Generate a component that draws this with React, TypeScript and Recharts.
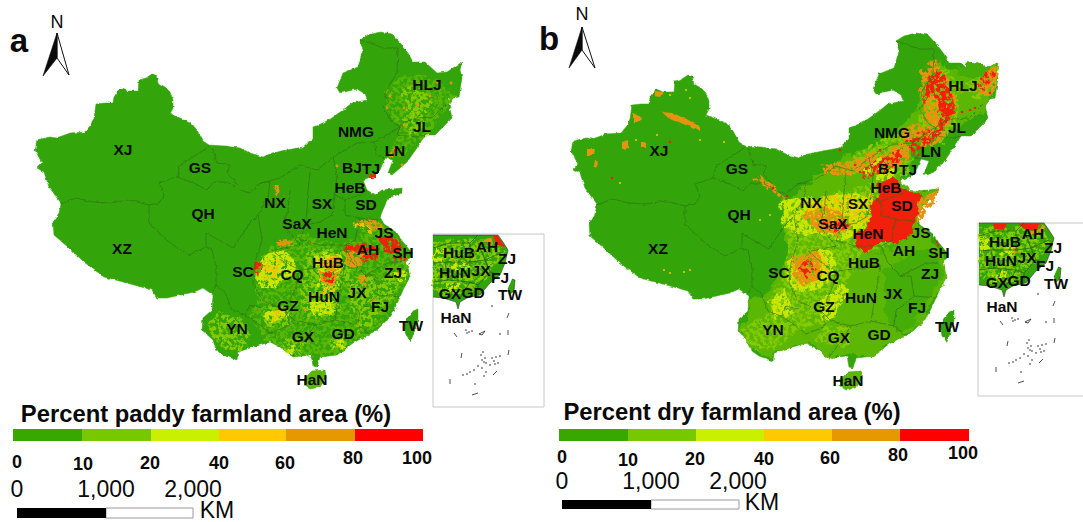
import React from 'react';
import { ScatterChart, Scatter, XAxis, YAxis } from 'recharts';

type Pt = [number, number];

const GREEN = '#33a50a';
const MID = '#5cb705';
const LIGHT = '#86ca02';
const YELLOW = '#c9e600';
const AMBER = '#f4c400';
const ORANGE = '#e69310';
const RED = '#f0200a';
const legendColors = ['#38a800', '#78c800', '#c9f000', '#ffc800', '#e69800', '#ff0000'];
const legendTicks = ['0', '10', '20', '40', '60', '80', '100'];

// China outline, picture coordinates of panel a; panel b is the same outline shifted
const chinaOutline: Pt[] = [
  [36, 144], [37, 140], [50, 137], [56, 138], [62, 136], [70, 133], [85, 132], [90, 126], [94, 118], [96, 104], [105, 103], [113, 103],
  [114, 97], [120, 88], [127, 91], [138, 91], [139, 80], [146, 78], [152, 74], [156, 75], [158, 83], [165, 87], [170, 92], [173, 100],
  [173, 108], [170, 114], [180, 118], [190, 122], [197, 130], [203, 141], [209, 145], [225, 146], [240, 148], [250, 153], [263, 157],
  [272, 153], [287, 150], [303, 147], [313, 138], [313, 127], [323, 123], [332, 118], [343, 110], [352, 103], [367, 100], [365, 94],
  [357, 89], [340, 93], [337, 88], [343, 73], [358, 67], [363, 50], [360, 40], [368, 35], [380, 32], [392, 34], [402, 45], [408, 53],
  [413, 62], [425, 62], [437, 73], [447, 72], [462, 62], [460, 70], [462, 77], [459, 97], [448, 99], [452, 118], [447, 123], [435, 135],
  [425, 135], [417, 148], [407, 162], [392, 175], [388, 173], [393, 160], [385, 158], [380, 170], [375, 175], [363, 180], [367, 190],
  [375, 195], [382, 190], [402, 188], [402, 193], [388, 198], [380, 217], [384, 224], [397, 233], [403, 242], [412, 253], [410, 258],
  [402, 262], [408, 268], [410, 277], [404, 288], [400, 297], [393, 312], [385, 322], [377, 330], [353, 343], [337, 355], [320, 357],
  [317, 367], [313, 366], [311, 355], [293, 357], [280, 347], [270, 342], [253, 347], [238, 352], [237, 360], [223, 355], [216, 350],
  [213, 340], [202, 330], [203, 318], [212, 310], [213, 295], [203, 288], [194, 292], [167, 298], [157, 298], [152, 290], [127, 283],
  [104, 277], [84, 262], [69, 248], [54, 235], [53, 222], [59, 213], [61, 203], [49, 187], [44, 172], [37, 168], [42, 163], [35, 150],
];
const hainan: Pt[] = [[304, 379], [312, 371], [325, 370], [326, 378], [320, 387], [310, 389], [304, 385]];
const taiwan: Pt[] = [[413, 311], [418, 309], [418, 320], [414, 332], [411, 341], [406, 335], [404, 325], [408, 317]];

const provinceLines: Pt[][] = [
  [[61, 204], [76, 198], [93, 202], [109, 203], [129, 200], [149, 205], [159, 203], [164, 195], [159, 183], [177, 177], [180, 165], [204, 150], [209, 146]],
  [[177, 177], [194, 183], [207, 190], [214, 182], [227, 182], [240, 190], [250, 193], [261, 183]],
  [[212, 147], [217, 163], [230, 165], [227, 173], [238, 185]],
  [[149, 205], [149, 223], [169, 242], [189, 255], [206, 247], [206, 233], [219, 240], [233, 248], [243, 233], [250, 223], [258, 215]],
  [[206, 247], [212, 250], [216, 267], [216, 285], [212, 293]],
  [[216, 285], [225, 292], [232, 310], [245, 315], [250, 305], [262, 308]],
  [[258, 215], [262, 240], [255, 262], [253, 282], [262, 300]],
  [[261, 183], [270, 182], [268, 197], [258, 215]],
  [[261, 183], [280, 178], [300, 165], [317, 170], [333, 157], [357, 143], [375, 142], [383, 137], [400, 127], [392, 122], [383, 107], [388, 103], [385, 92], [397, 73], [398, 48], [383, 48], [370, 43], [360, 40]],
  [[400, 127], [402, 123], [417, 118], [433, 117], [447, 103]],
  [[400, 127], [397, 135], [417, 137], [425, 135]],
  [[375, 142], [376, 155], [385, 158]],
  [[333, 157], [337, 175], [335, 195], [332, 215]],
  [[310, 172], [308, 190], [307, 210], [305, 225], [320, 222], [332, 215]],
  [[335, 195], [345, 200], [360, 195], [367, 190]],
  [[345, 200], [345, 215], [360, 218], [378, 220]],
  [[290, 190], [288, 210], [283, 225], [300, 245]],
  [[305, 225], [300, 240], [320, 245], [345, 245], [355, 240], [360, 218]],
  [[345, 245], [352, 262], [365, 275], [390, 262], [402, 262]],
  [[365, 275], [375, 275], [378, 295], [360, 310], [358, 325], [370, 335]],
  [[378, 295], [400, 297]],
  [[358, 325], [335, 320], [315, 325], [305, 340], [293, 356]],
  [[300, 270], [295, 290], [285, 310], [295, 320], [315, 325]],
  [[335, 320], [340, 290], [345, 265]],
  [[275, 250], [300, 245]],
  [[272, 250], [290, 265], [300, 270], [345, 265]],
  [[262, 300], [285, 310], [290, 325], [270, 333], [260, 325], [245, 315]],
];

// filled farmland patches of panel a
const paddyMid: Pt[][] = [
  [[256, 262], [272, 245], [285, 242], [306, 233], [320, 240], [345, 243], [365, 230], [378, 222], [397, 235], [403, 245], [410, 258], [408, 275], [398, 298], [390, 315], [375, 330], [352, 343], [337, 355], [320, 357], [293, 356], [281, 347], [268, 340], [258, 328], [250, 318], [258, 300], [255, 285]],
  [[385, 90], [398, 78], [425, 75], [445, 85], [455, 95], [447, 110], [432, 130], [415, 145], [396, 160], [388, 150], [400, 130], [392, 118], [385, 105]],
];
const paddyLight: Pt[][] = [
  [[305, 250], [345, 250], [352, 268], [340, 290], [342, 312], [305, 318], [300, 290]],
  [[345, 280], [375, 275], [372, 300], [350, 315]],
  [[262, 308], [290, 306], [290, 325], [265, 328]],
  [[283, 340], [305, 340], [300, 355], [285, 350]],
  [[330, 338], [350, 336], [350, 345], [332, 350]],
  [[400, 88], [420, 84], [432, 100], [425, 125], [410, 140], [402, 125], [408, 105]],
  [[205, 325], [218, 312], [240, 318], [252, 335], [240, 350], [222, 350]],
  [[365, 290], [395, 270], [395, 295], [375, 322], [355, 335]],
];
const paddyYellow: Pt[][] = [
  [[255, 277], [260, 260], [272, 250], [287, 252], [295, 260], [293, 270], [287, 280], [273, 288], [260, 288]],
  [[313, 256], [340, 254], [345, 268], [333, 272], [316, 270]],
  [[308, 302], [335, 300], [337, 312], [312, 314]],
  [[264, 313], [285, 309], [287, 318], [268, 322]],
  [[318, 270], [338, 270], [338, 288], [320, 288]],
  [[283, 347], [298, 346], [296, 354], [286, 353]],
  [[333, 341], [345, 340], [345, 347], [335, 348]],
  [[395, 272], [407, 270], [405, 280], [397, 280]],
];
const paddyAmber: Pt[][] = [
  [[262, 270], [272, 258], [282, 262], [278, 276], [264, 282]],
  [[316, 258], [336, 256], [338, 268], [320, 270]],
  [[322, 288], [336, 288], [334, 296], [324, 295]],
  [[270, 312], [282, 310], [282, 317], [272, 319]],
  [[352, 220], [372, 222], [374, 232], [358, 230]],
];
const paddyOrange: Pt[][] = [
  [[277, 242], [293, 241], [293, 246], [278, 246]],
  [[357, 218], [380, 222], [380, 232], [366, 225]],
  [[350, 246], [362, 243], [366, 262], [355, 268], [345, 262]],
  [[322, 262], [338, 256], [342, 268], [330, 272]],
  [[319, 272], [338, 272], [336, 288], [322, 286]],
  [[358, 278], [369, 276], [368, 287], [359, 287]],
  [[275, 183], [280, 183], [277, 197], [273, 196]],
  [[389, 150], [397, 146], [396, 160], [390, 158]],
];
const paddyRed: Pt[][] = [
  [[255, 262], [262, 260], [258, 275], [254, 270]],
  [[322, 274], [333, 272], [336, 283], [326, 284]],
  [[343, 247], [364, 243], [378, 250], [363, 253], [345, 252]],
  [[358, 256], [380, 252], [378, 262], [362, 264]],
  [[380, 238], [394, 234], [402, 246], [398, 254], [386, 252]],
  [[393, 256], [408, 257], [405, 262], [395, 262]],
  [[367, 172], [375, 172], [375, 177], [368, 177]],
  [[392, 150], [396, 149], [396, 156], [392, 156]],
];
const paddyDotsOrange: Pt[] = [
  [451, 83], [437, 82], [390, 96], [387, 108], [404, 125], [404, 108], [418, 105], [430, 96], [402, 165], [337, 166], [282, 310], [305, 310], [373, 300], [358, 262], [312, 243],
];

// panel b patches, picture coordinates
const dryMid: Pt[][] = [
  [[785, 200], [782, 240], [790, 255], [780, 272], [770, 290], [750, 300], [748, 318], [738, 330], [752, 350], [773, 360], [775, 352], [789, 348], [806, 343], [816, 348], [829, 358], [847, 356], [873, 356], [889, 344], [913, 331], [921, 322], [936, 297], [946, 278], [944, 258], [938, 245], [920, 225], [916, 218], [937, 192], [910, 190], [900, 180], [916, 150], [929, 140], [943, 130], [953, 130], [980, 115], [990, 100], [998, 63], [975, 73], [950, 70], [940, 60], [925, 78], [918, 110], [900, 125], [885, 142], [845, 156], [820, 175]],
];
const dryDark: Pt[][] = [
  [[885, 270], [915, 250], [935, 250], [944, 275], [930, 295], [915, 325], [895, 335], [885, 315]],
  [[865, 255], [890, 250], [905, 240], [880, 250]],
  [[968, 62], [958, 68], [960, 78], [985, 78], [990, 68]],
];
const dryLight: Pt[][] = [
  [[782, 205], [850, 190], [880, 180], [905, 240], [860, 255], [850, 280], [840, 300], [822, 325], [800, 330], [775, 330], [768, 300], [785, 270], [788, 240]],
  [[945, 145], [925, 142], [918, 125], [930, 85], [945, 65], [960, 88], [958, 118]],
  [[816, 340], [850, 350], [850, 330], [825, 325]],
  [[890, 158], [912, 160], [905, 175], [885, 180]],
  [[845, 178], [880, 165], [915, 148], [905, 130], [880, 140], [845, 160]],
  [[965, 85], [985, 72], [998, 66], [996, 92], [975, 100]],
  [[740, 330], [770, 310], [800, 330], [775, 350], [755, 350]],
];
const dryYellow: Pt[][] = [
  [[778, 202], [800, 196], [820, 200], [840, 195], [855, 190], [870, 200], [865, 225], [845, 240], [822, 235], [800, 235], [785, 228]],
  [[790, 258], [822, 250], [838, 258], [830, 285], [802, 292], [785, 282]],
  [[820, 300], [842, 285], [850, 290], [835, 315], [822, 320]],
  [[768, 300], [785, 290], [795, 315], [775, 320]],
  [[928, 95], [938, 85], [950, 90], [952, 115], [938, 130], [926, 118]],
  [[895, 165], [880, 170], [875, 180], [890, 180]],
  [[860, 172], [885, 155], [900, 145], [895, 158], [870, 178]],
];
const dryAmber: Pt[][] = [
  [[805, 205], [830, 195], [855, 195], [862, 215], [845, 232], [815, 228]],
  [[792, 262], [820, 254], [830, 266], [818, 285], [798, 288]],
  [[862, 195], [875, 190], [872, 222], [862, 226]],
];
const dryOrange: Pt[][] = [
  [[795, 257], [815, 250], [822, 262], [820, 280], [803, 288], [794, 275]],
  [[800, 215], [822, 205], [838, 212], [850, 225], [838, 235], [818, 232]],
  [[818, 218], [848, 218], [850, 232], [826, 233]],
  [[757, 175], [770, 185], [787, 197], [785, 200], [768, 190], [755, 180]],
  [[920, 70], [935, 62], [950, 78], [958, 105], [945, 135], [930, 148], [918, 150], [925, 130], [922, 105]],
  [[975, 92], [985, 72], [998, 65], [996, 92], [984, 96]],
  [[900, 130], [918, 122], [925, 132], [905, 142]],
  [[880, 155], [900, 142], [915, 145], [903, 165], [885, 170]],
  [[820, 166], [850, 160], [878, 150], [875, 162], [850, 175], [825, 175]],
  [[918, 198], [938, 189], [932, 205], [918, 222]],
];
const dryRedNortheast: Pt[][] = [
  [[923, 100], [927, 78], [937, 68], [947, 78], [953, 97], [955, 110], [945, 127], [933, 142], [927, 140], [937, 123], [940, 107], [933, 92], [925, 102]],
];
const dryRedPlain: Pt[][] = [
  [[877, 197], [880, 183], [893, 177], [900, 187], [910, 193], [922, 194], [918, 207], [914, 222], [910, 237], [897, 243], [877, 243], [867, 252], [858, 248], [855, 237], [870, 223], [870, 210]],
];
const dryRed: Pt[][] = [
  [[982, 72], [990, 68], [995, 75], [985, 90], [980, 88]],
  [[910, 145], [927, 135], [930, 142], [915, 158]],
  [[798, 268], [810, 258], [815, 268], [805, 280]],
  [[820, 222], [846, 220], [848, 230], [830, 232]],
  [[935, 240], [940, 245], [937, 248]],
  [[860, 170], [880, 160], [900, 150], [905, 158], [885, 172], [865, 180]],
  [[905, 140], [925, 128], [930, 135], [910, 150]],
  [[942, 112], [952, 100], [958, 108], [948, 122]],
];
const dryXinjiang: Pt[][] = [
  [[662, 112], [672, 113], [685, 118], [700, 127], [700, 130], [683, 124], [668, 118]],
  [[633, 113], [641, 117], [640, 122], [633, 122]],
  [[622, 142], [628, 140], [628, 148], [622, 149]],
  [[587, 149], [595, 149], [594, 155], [587, 155]],
  [[595, 160], [598, 162], [596, 168], [594, 166]],
  [[655, 91], [663, 92], [660, 97], [655, 96]],
  [[641, 143], [646, 143], [646, 147], [641, 147]],
];
const dryDotsLight: Pt[] = [
  [670, 95], [686, 90], [690, 98], [612, 178], [620, 183], [670, 273], [664, 270], [690, 270], [684, 272], [700, 140], [724, 142], [636, 140], [657, 135], [760, 220], [770, 215],
];
const dryDotsRed: Pt[] = [
  [670, 142], [612, 178], [787, 196], [773, 188], [840, 150], [860, 172], [855, 165], [880, 150], [962, 112], [970, 110], [990, 93], [975, 108],
];

// inset map, picture coordinates of panel a
const insetBox: Pt[] = [[433, 234], [544, 234], [544, 407], [433, 407], [433, 234]];
const insetCoast: Pt[] = [[433, 235], [498, 235], [503, 242], [508, 250], [505, 263], [500, 275], [490, 283], [480, 295], [467, 298], [460, 302], [458, 309], [456, 302], [443, 298], [433, 297]];
const insetTaiwan: Pt[] = [[512, 279], [515, 280], [514, 291], [510, 294], [508, 288]];
const insetLines: Pt[][] = [
  [[433, 248], [450, 243], [470, 243], [478, 235]],
  [[478, 243], [485, 260], [503, 252]],
  [[470, 243], [470, 262], [485, 260]],
  [[433, 263], [445, 262], [470, 262]],
  [[485, 260], [490, 272], [478, 285], [478, 295]],
  [[490, 272], [500, 275]],
  [[445, 262], [448, 280], [470, 282], [478, 285]],
  [[433, 282], [448, 280]],
  [[455, 282], [450, 298]],
  [[470, 282], [460, 298]],
];
const insetLight: Pt[][] = [
  [[433, 240], [495, 238], [505, 252], [490, 275], [470, 295], [440, 296], [433, 290]],
];
const insetYellow: Pt[][] = [
  [[433, 247], [443, 249], [443, 262], [433, 264]],
  [[445, 285], [460, 283], [460, 292], [448, 294]],
  [[452, 262], [470, 258], [470, 268], [455, 270]],
];
const insetOrange: Pt[][] = [
  [[466, 260], [473, 260], [472, 266], [467, 266]],
  [[478, 240], [495, 237], [498, 245], [482, 246]],
];
const insetRedA: Pt[][] = [[[493, 236], [498, 236], [505, 247], [497, 245]]];
const insetRedB: Pt[][] = [[[447, 235], [461, 235], [458, 242], [448, 241]], [[472, 235], [494, 235], [490, 243], [478, 241]]];
const islandStrokes: Pt[][] = [
  [[509, 313], [507, 318]], [[508, 330], [508, 335]], [[454, 333], [457, 337]], [[462, 353], [461, 358]], [[509, 350], [508, 355]],
  [[497, 371], [493, 375]], [[450, 379], [450, 384]], [[472, 395], [478, 393]], [[479, 334], [485, 331]], [[485, 331], [482, 335]], [[482, 335], [479, 334]],
];
const islandDots: Pt[] = [
  [466, 330], [469, 332], [472, 331], [467, 333], [500, 334], [492, 306], [482, 360], [484, 362], [485, 358], [486, 363], [492, 358], [494, 361], [496, 357], [498, 363], [500, 356],
  [470, 372], [474, 370], [478, 366], [482, 368], [486, 372], [490, 365], [463, 375], [467, 374], [475, 384], [484, 376], [495, 364], [481, 355], [483, 352],
];

// text, [label, x, y]
type Lab = [string, number, number];
const panelALabels: Lab[] = [
  ['XJ', 123, 149], ['GS', 200, 167], ['QH', 203, 213], ['XZ', 122, 248], ['NX', 275, 202], ['SaX', 297, 223], ['SX', 322, 203], ['HeB', 350, 187], ['SD', 366, 204],
  ['HeN', 332, 232], ['NMG', 356, 131], ['BJ', 352, 167], ['TJ', 371, 168], ['LN', 395, 150], ['JL', 422, 126], ['HLJ', 427, 84], ['JS', 384, 232], ['AH', 368, 249],
  ['SH', 403, 252], ['HuB', 328, 262], ['CQ', 292, 274], ['SC', 243, 271], ['ZJ', 393, 272], ['JX', 357, 292], ['HuN', 324, 296], ['GZ', 288, 305], ['FJ', 380, 306],
  ['YN', 237, 328], ['GX', 303, 336], ['GD', 343, 333], ['TW', 411, 325], ['HaN', 312, 379],
  ['HuB', 459, 252], ['AH', 487, 246], ['ZJ', 507, 258], ['HuN', 455, 272], ['JX', 481, 270], ['FJ', 500, 277], ['GX', 450, 293], ['GD', 473, 292], ['TW', 510, 294], ['HaN', 456, 317],
];
const panelBLabels: Lab[] = [
  ['XJ', 659, 150], ['GS', 737, 168], ['QH', 739, 214], ['XZ', 658, 248], ['NX', 811, 202], ['SaX', 833, 223], ['SX', 858, 203], ['HeB', 886, 187], ['SD', 902, 205],
  ['HeN', 868, 233], ['NMG', 892, 132], ['BJ', 888, 168], ['TJ', 908, 169], ['LN', 931, 151], ['JL', 957, 127], ['HLJ', 963, 85], ['JS', 921, 232], ['AH', 904, 250],
  ['SH', 939, 252], ['HuB', 864, 262], ['CQ', 828, 275], ['SC', 779, 272], ['ZJ', 930, 273], ['JX', 893, 293], ['HuN', 861, 297], ['GZ', 824, 306], ['FJ', 917, 307],
  ['YN', 773, 329], ['GX', 839, 337], ['GD', 879, 334], ['TW', 947, 326], ['HaN', 848, 380],
  ['HuB', 1005, 241], ['AH', 1033, 233], ['ZJ', 1053, 247], ['HuN', 1001, 260], ['JX', 1027, 257], ['FJ', 1045, 265], ['GX', 997, 282], ['GD', 1019, 280], ['TW', 1056, 283], ['HaN', 1002, 306],
];
const legendTickPosA: Pt[] = [[17, 462], [83, 464], [150, 463], [219, 463], [285, 463], [353, 458], [417, 458]];
const legendTickPosB: Pt[] = [[562, 457], [628, 460], [695, 459], [764, 459], [830, 458], [898, 455], [963, 453]];
const legendBreaksA = [13, 82, 151, 219, 286, 355, 423];
const legendBreaksB = [559, 628, 696, 764, 832, 900, 969];
const scaleBreaksA = [17, 106, 193];
const scaleBreaksB = [562, 651, 739];

const noMark = () => null;
const ROUGH = 'url(#rough)';
const MOTTLE = 'url(#mottle)';
const DENSE = 'url(#dense)';
const EDGE = 'url(#edge)';

const xy = (pts: Pt[], dx = 0, dy = 0) => pts.map(([x, y]) => ({ x: x + dx, y: y + dy }));

let seq = 0;
const poly = (pts: Pt[], fill: string, stroke = 'none', strokeWidth = 0, dx = 0, dy = 0, filter?: string) => (
  <Scatter key={`p${seq++}`} data={xy(pts, dx, dy)} line={{ fill, stroke, strokeWidth, filter }} shape={noMark} isAnimationActive={false} />
);
const polys = (list: Pt[][], fill: string, dx = 0, dy = 0, filter?: string) => list.map((p) => poly(p, fill, 'none', 0, dx, dy, filter));
const strokes = (list: Pt[][], stroke: string, w: number, dx = 0, dy = 0, filter?: string) => list.map((p) => poly(p, 'none', stroke, w, dx, dy, filter));
const dots = (pts: Pt[], fill: string, r: number, dx = 0, dy = 0) => (
  <Scatter
    key={`d${seq++}`}
    data={xy(pts, dx, dy)}
    isAnimationActive={false}
    shape={(p: any) => <circle cx={p.cx} cy={p.cy} r={r} fill={fill} />}
  />
);
const texts = (rows: { x: number; y: number; label: string }[], style: any) => (
  <Scatter
    key={`t${seq++}`}
    data={rows}
    isAnimationActive={false}
    shape={(p: any) => (
      <text x={p.cx} y={p.cy} textAnchor="middle" dominantBaseline="central" fontFamily="Liberation Sans, Arial, sans-serif" fill="#0a0a0a" {...style}>
        {p.payload.label}
      </text>
    )}
  />
);
const rect = (x0: number, x1: number, y0: number, y1: number): Pt[] => [[x0, y0], [x1, y0], [x1, y1], [x0, y1], [x0, y0]];

const legend = (breaks: number[], y0: number, y1: number) =>
  legendColors.map((c, i) => poly(rect(breaks[i], breaks[i + 1], y0, y1), c));

const arrow = (top: Pt, left: Pt, notch: Pt, right: Pt) => [
  poly([top, notch, right, top], '#ffffff', '#111111', 1),
  poly([top, left, notch, top], '#0a0a0a', '#0a0a0a', 0.6),
];

const scaleBar = (b: number[], y0: number, y1: number) => [
  poly(rect(b[1], b[2], y0, y1), '#ffffff', '#9a9a9a', 1),
  poly(rect(b[0], b[1], y0, y1), '#000000'),
];

const baseMap = (dx: number, dy: number) => [
  poly(chinaOutline, GREEN, GREEN, 0.5, dx, dy, EDGE),
  poly(hainan, MID, GREEN, 0.5, dx, dy, EDGE),
  poly(taiwan, GREEN, GREEN, 0.5, dx, dy, EDGE),
];

// map texture only, the shapes themselves come from the arrays above
const noiseFilter = (id: string, gain: number, offset: number, seed: number) => (
  <filter id={id} filterUnits="userSpaceOnUse" x={0} y={0} width={1083} height={522} colorInterpolationFilters="sRGB">
    <feTurbulence type="fractalNoise" baseFrequency="0.09" numOctaves={2} seed={3} result="w" />
    <feDisplacementMap in="SourceGraphic" in2="w" scale={10} xChannelSelector="R" yChannelSelector="G" result="shape" />
    <feTurbulence type="fractalNoise" baseFrequency="0.26" numOctaves={3} seed={seed} result="n" />
    <feColorMatrix in="n" type="matrix" values={`0 0 0 0 0  0 0 0 0 0  0 0 0 0 0  ${gain} 0 0 0 ${offset}`} result="m" />
    <feComposite in="shape" in2="m" operator="in" result="c" />
    <feGaussianBlur in="c" stdDeviation={0.45} />
  </filter>
);

const Textures = () => (
  <svg width={0} height={0} style={{ position: 'absolute' }}>
    <defs>
      <filter id="edge" filterUnits="userSpaceOnUse" x={0} y={0} width={1083} height={522} colorInterpolationFilters="sRGB">
        <feTurbulence type="fractalNoise" baseFrequency="0.22" numOctaves={2} seed={5} result="w" />
        <feDisplacementMap in="SourceGraphic" in2="w" scale={3} xChannelSelector="R" yChannelSelector="G" />
      </filter>
      <filter id="rough" filterUnits="userSpaceOnUse" x={0} y={0} width={1083} height={522} colorInterpolationFilters="sRGB">
        <feTurbulence type="fractalNoise" baseFrequency="0.1" numOctaves={3} seed={11} result="w" />
        <feDisplacementMap in="SourceGraphic" in2="w" scale={11} xChannelSelector="R" yChannelSelector="G" />
      </filter>
      {noiseFilter('mottle', 7, -3, 7)}
      {noiseFilter('dense', 8, -2.9, 13)}
    </defs>
  </svg>
);

const App = () => {
  seq = 0;
  return (
    <div style={{ position: 'absolute', left: 0, top: 0, width: 1083, height: 522, background: '#ffffff', overflow: 'hidden' }}>
      <Textures />
      <ScatterChart width={1083} height={522} margin={{ top: 0, right: 0, bottom: 0, left: 0 }}>
        <XAxis type="number" dataKey="x" domain={[0, 1083]} allowDataOverflow hide />
        <YAxis type="number" dataKey="y" domain={[0, 522]} allowDataOverflow reversed hide />

        {/* panel a */}
        {baseMap(0, 0)}
        {polys(paddyMid, MID, 0, 0, MOTTLE)}
        {polys(paddyLight, LIGHT, 0, 0, MOTTLE)}
        {polys(paddyYellow, YELLOW, 0, 0, DENSE)}
        {polys(paddyAmber, AMBER, 0, 0, MOTTLE)}
        {polys(paddyOrange, ORANGE, 0, 0, DENSE)}
        {polys(paddyRed, RED, 0, 0, DENSE)}
        {dots(paddyDotsOrange, ORANGE, 1.4)}
        {strokes(provinceLines, '#2f6a14', 0.6, 0, 0, EDGE)}

        {/* panel b */}
        {baseMap(536, 1)}
        {polys(dryMid, MID, 0, 0, ROUGH)}
        {polys(dryDark, '#45ad07', 0, 0, ROUGH)}
        {polys(dryLight, LIGHT, 0, 0, MOTTLE)}
        {polys(dryYellow, YELLOW, 0, 0, DENSE)}
        {polys(dryAmber, AMBER, 0, 0, MOTTLE)}
        {polys(dryOrange, ORANGE, 0, 0, DENSE)}
        {polys(dryRedNortheast, RED, 0, 0, DENSE)}
        {polys(dryRedPlain, RED, 0, 0, ROUGH)}
        {polys(dryRed, RED, 0, 0, MOTTLE)}
        {polys(dryXinjiang, ORANGE, 0, 0, EDGE)}
        {dots(dryDotsLight, AMBER, 1.1)}
        {dots(dryDotsRed, RED, 1.3)}
        {strokes(provinceLines, '#2f6a14', 0.6, 536, 1, EDGE)}

        {/* insets */}
        {poly(insetBox, 'none', '#c8c8c8', 1)}
        {poly(insetCoast, GREEN, '#222222', 0.5)}
        {polys(insetLight, LIGHT, 0, 0, MOTTLE)}
        {polys(insetYellow, YELLOW, 0, 0, MOTTLE)}
        {polys(insetOrange, ORANGE, 0, 0, MOTTLE)}
        {polys(insetRedA, RED)}
        {poly(insetTaiwan, GREEN, '#222222', 0.5)}
        {strokes(insetLines, '#1f5a10', 0.7)}
        {strokes(islandStrokes, '#222222', 0.8)}
        {dots(islandDots, '#222222', 0.8)}

        {poly(insetBox, 'none', '#c8c8c8', 1, 545, -11)}
        {poly(insetCoast, GREEN, '#222222', 0.5, 546, -12)}
        {polys(insetLight, LIGHT, 546, -12, MOTTLE)}
        {polys(insetYellow, YELLOW, 546, -12, MOTTLE)}
        {polys(insetOrange, ORANGE, 546, -12, MOTTLE)}
        {polys(insetRedB, RED, 546, -12)}
        {poly(insetTaiwan, GREEN, '#222222', 0.5, 546, -12)}
        {strokes(insetLines, '#1f5a10', 0.7, 546, -12)}
        {strokes(islandStrokes, '#222222', 0.8, 546, -12)}
        {dots(islandDots, '#222222', 0.8, 546, -12)}

        {/* legends, scale bars, north arrows */}
        {legend(legendBreaksA, 429, 441)}
        {legend(legendBreaksB, 429, 441)}
        {scaleBar(scaleBreaksA, 508, 518)}
        {scaleBar(scaleBreaksB, 500, 509)}
        {arrow([57, 33], [43, 76], [57, 58], [69, 75])}
        {arrow([582, 27], [569, 68], [582, 50], [595, 68])}

        {/* text */}
        {texts(panelALabels.map(([label, x, y]) => ({ label, x, y })), { fontSize: 15.5, fontWeight: 700 })}
        {texts(panelBLabels.map(([label, x, y]) => ({ label, x, y })), { fontSize: 15.5, fontWeight: 700 })}
        {texts(legendTicks.map((label, i) => ({ label, x: legendTickPosA[i][0], y: legendTickPosA[i][1] })), { fontSize: 18, fontWeight: 700 })}
        {texts(legendTicks.map((label, i) => ({ label, x: legendTickPosB[i][0], y: legendTickPosB[i][1] })), { fontSize: 18, fontWeight: 700 })}
        {texts([{ label: 'Percent paddy farmland area (%)', x: 206, y: 413 }, { label: 'Percent dry farmland area (%)', x: 732, y: 411 }], { fontSize: 23.8, fontWeight: 700 })}
        {texts([
          { label: '0', x: 17, y: 489 }, { label: '1,000', x: 106, y: 489 }, { label: '2,000', x: 193, y: 489 }, { label: 'KM', x: 217, y: 510 },
          { label: '0', x: 562, y: 481 }, { label: '1,000', x: 651, y: 481 }, { label: '2,000', x: 738, y: 481 }, { label: 'KM', x: 762, y: 502 },
        ], { fontSize: 23 })}
        {texts([{ label: 'a', x: 19, y: 40 }, { label: 'b', x: 549, y: 38 }], { fontSize: 33, fontWeight: 700 })}
        {texts([{ label: 'N', x: 57, y: 22 }, { label: 'N', x: 582, y: 14 }], { fontSize: 18 })}
      </ScatterChart>
    </div>
  );
};

export default App;
